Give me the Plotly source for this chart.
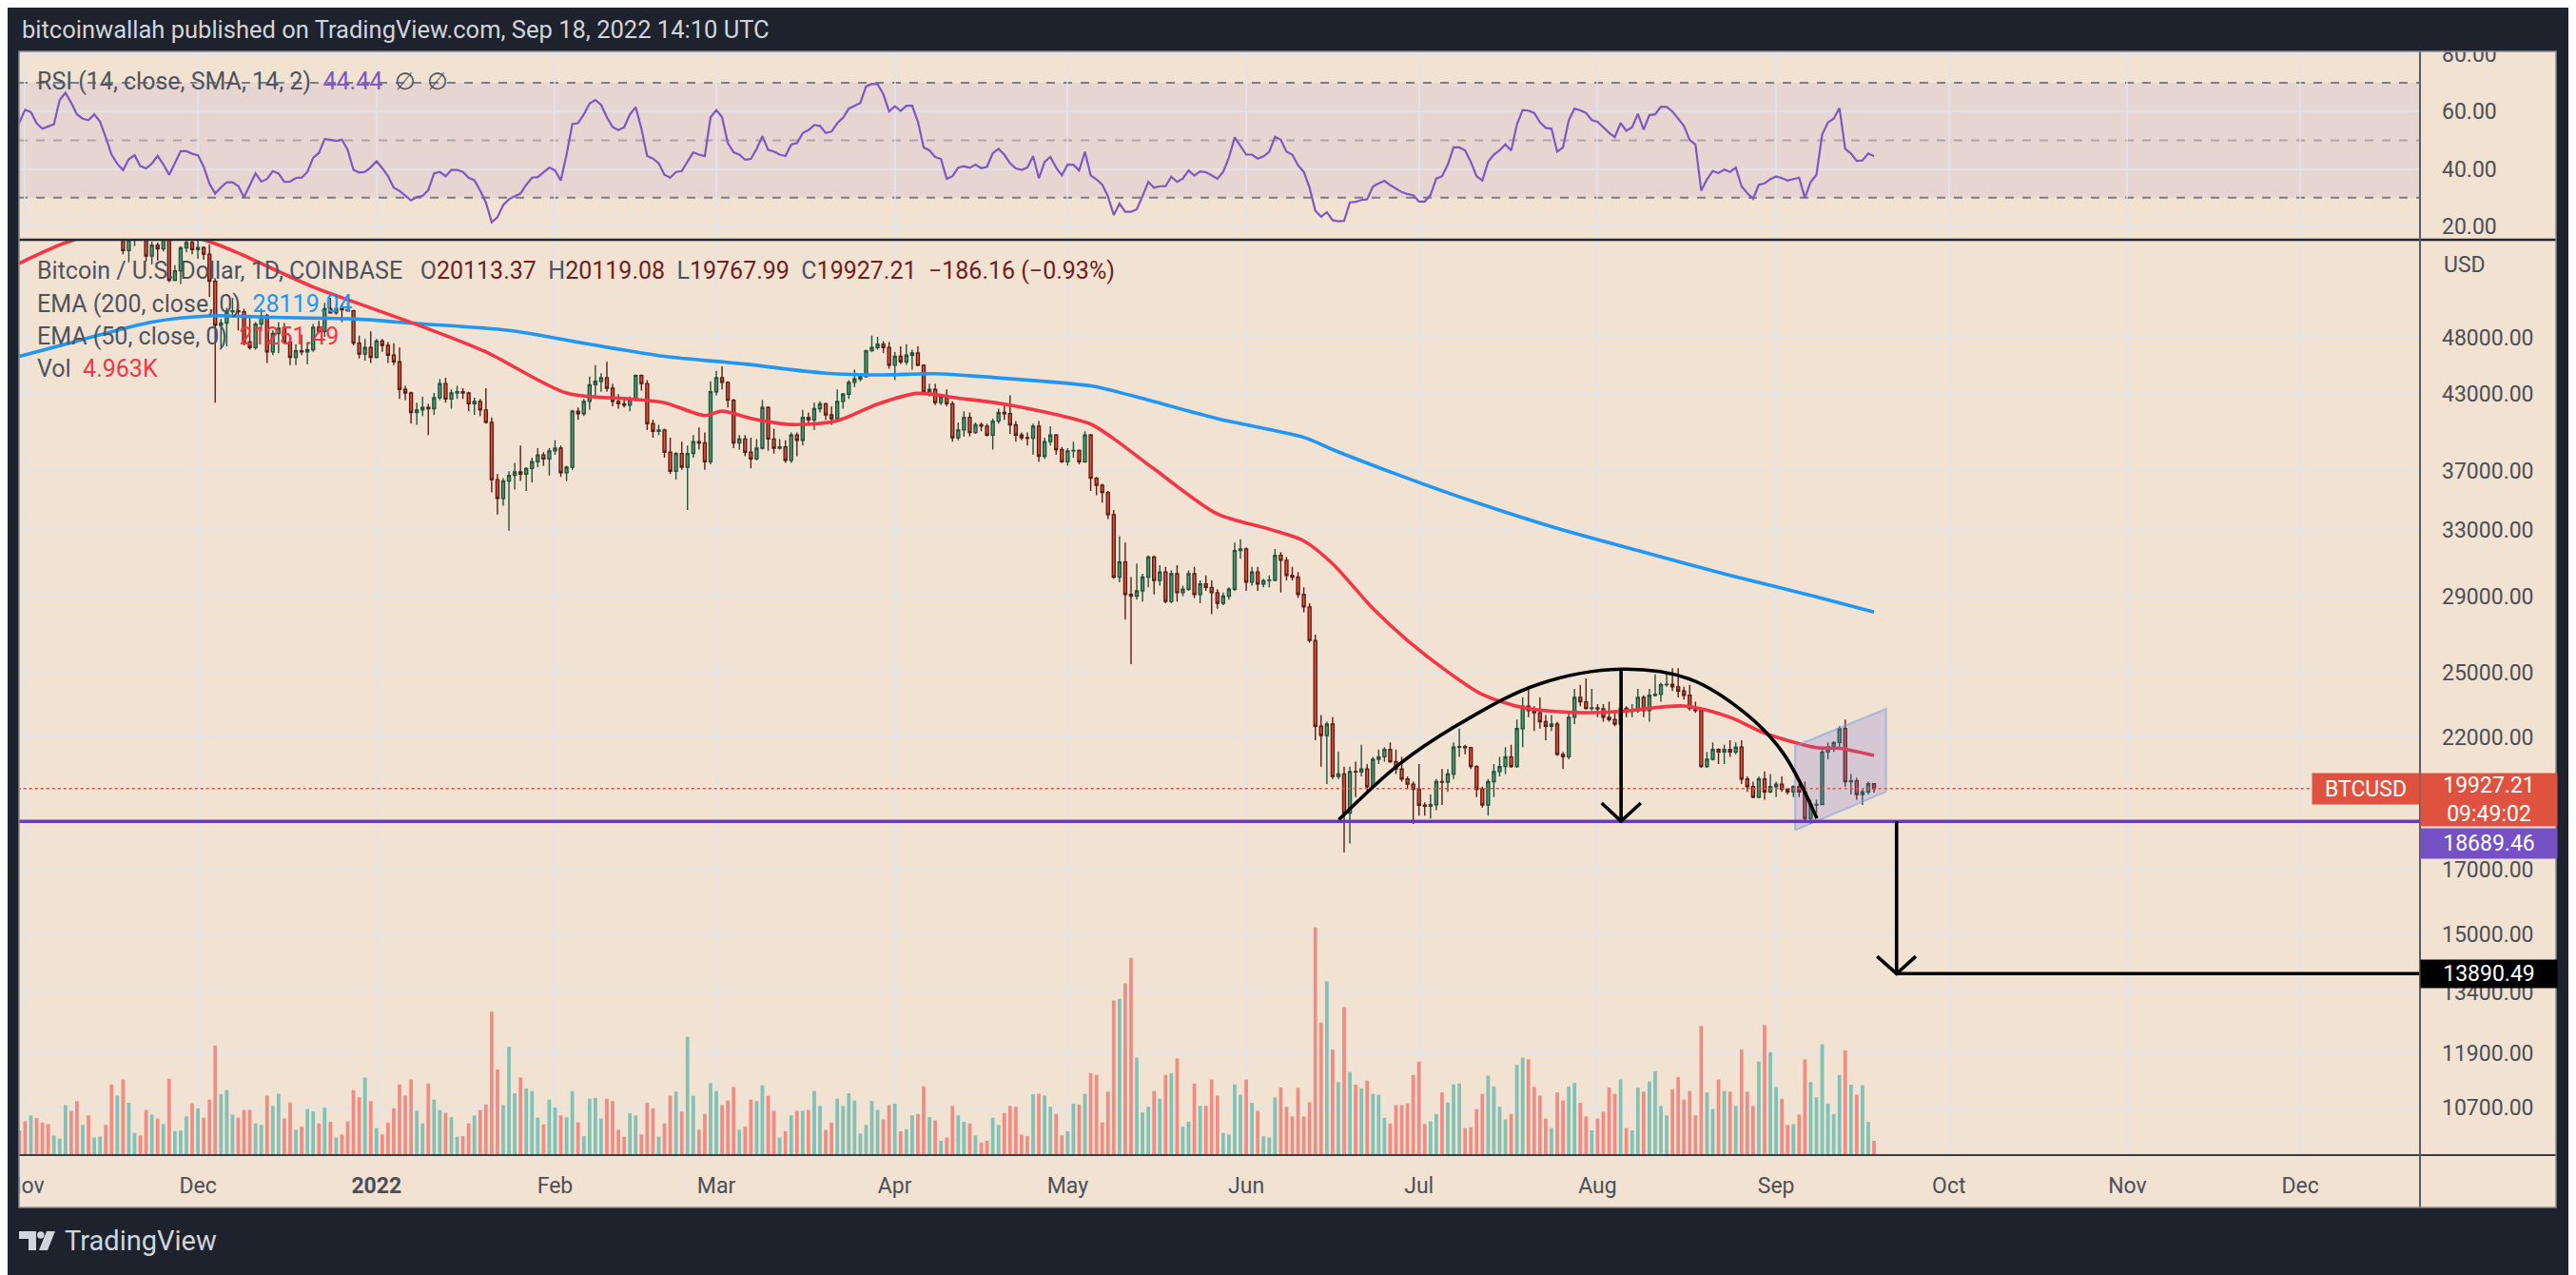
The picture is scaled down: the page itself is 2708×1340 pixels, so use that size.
import numpy as np
import pandas as pd
import plotly.graph_objects as go

W, H = 2708, 1340
# the page puts the figure 8 px in from the window corner; layout positions
# below are window pixels of the reference and are shifted back by this
OX, OY = 8, 8

NAVY = "#1e222d"
PEACH = "#f1e2d2"
GRID = "rgba(222,228,242,0.75)"
AXIS_TXT = "#4c4f58"

# BTC/USD daily candles (Coinbase), 30 Oct 2021 .. 18 Sep 2022
dates = pd.date_range("2021-10-30", "2022-09-18", freq="D")
first_open = 62250

closes = [
    61850, 61320,
    61000, 63230, 62940, 61400, 61000, 61500, 63300, 67550, 66950, 64900,
    64950, 64150, 64400, 65500, 63600, 60100, 60400, 56900, 58100, 59700,
    58700, 56300, 57500, 57100, 58900, 53700, 54700, 57200, 57800, 57000,
    57230, 56500, 53600, 49200, 49400, 50500, 50600, 50500, 47600, 47100,
    49300, 50100, 46700, 48400, 48900, 47600, 46200, 46800, 46700, 46900,
    49000, 48600, 50800, 50400, 50800, 50700, 50600, 47500, 46500, 47100, 46200,
    47700, 47300, 46400, 45800, 43400, 43100, 41500, 41700, 41900, 41800,
    42700, 43900, 42600, 43100, 43200, 43100, 42200, 42400, 41700, 40700,
    36400, 35100, 36300, 36700, 36950, 36800, 37200, 37700, 38200, 37900, 38500,
    38700, 36900, 37300, 41600, 41400, 42400, 43800, 44100, 44400, 43500,
    42400, 42200, 42100, 42600, 44600, 43900, 40600, 40000, 40100, 38400,
    37000, 38300, 37300, 38300, 39200, 39100, 37700, 43200,
    44400, 44000, 42500, 39100, 39400, 38400, 37900, 38700, 41900, 39400,
    38700, 38800, 37800, 39700, 39300, 41100, 40900, 41800, 42200, 41300,
    41000, 42400, 43000, 44000, 44300, 44500, 46800, 47100, 47400, 47100, 45500,
    46300, 45800, 46400, 46600, 45500, 43200, 43400, 42300, 42800, 42200,
    39500, 40100, 41100, 39900, 40500, 40400, 39700, 40800, 41500, 41400,
    40500, 39700, 39500, 39460, 40400, 38100, 39200, 39700, 38600, 37700,
    38500, 38530, 37700, 39700, 36500, 36000, 35500, 34000, 30100, 31000,
    29100, 29000, 29300, 30100, 31300, 29900, 30400, 28700, 30300, 29200,
    29400, 30300, 29100, 29700, 29500, 29200, 28600, 29000, 29400, 31700, 31800,
    29800, 30400, 29700, 29900, 29920, 31400, 31100, 30200, 30100, 29100,
    28400, 26600, 22500, 22100, 22600, 20400, 20500, 19000, 20600, 20580,
    20700, 20000, 21100, 21200, 21500, 21000, 20700, 20300, 20100, 19900,
    19290, 19250, 19310, 20200, 20180, 20500, 21600, 21620, 21580, 20800,
    19900, 19300, 20200, 20600, 20800, 21200, 20800, 22400, 23400, 23200,
    23100, 22700, 22500, 22600, 21300, 21200, 22900, 23800, 23600, 23300, 23320,
    23280, 22900, 22800, 22600, 23300, 23170, 23190, 23800, 23200, 23900,
    23950, 24400, 24420, 24300, 24100, 23900, 23300, 23200, 20800, 21100,
    21500, 21400, 21500, 21400, 21600, 20300, 20000, 19600, 20300, 19800, 20000,
    20100, 19900, 19800, 20000, 19800, 18800, 19300, 19320, 21400, 21600,
    21800, 22400, 20200, 20230, 19700, 19800, 20113.37, 19927.21,
]

highs = [
    62350, 62400,
    62400, 64300, 63500, 63100, 62600, 61600, 63400, 67800, 68530, 69000,
    65600, 65400, 65000, 65550, 66300, 63700, 60800, 60900, 58400, 59800,
    60000, 59200, 57900, 57800, 59400, 59200, 55300, 57400, 58900, 59200,
    59100, 57400, 57600, 53900, 49800, 50900, 51900, 51200, 50800, 50100,
    49500, 50800, 50300, 48700, 49500, 49400, 48000, 47400, 48300, 47600,
    49300, 49600, 51400, 51900, 51200, 51300, 52100, 50700, 48200, 47900, 48600,
    47900, 47900, 47600, 47500, 47100, 43700, 43200, 42300, 42800, 42200,
    43100, 44300, 44400, 43400, 43700, 43500, 43200, 42700, 42600, 43500,
    41100, 36800, 36500, 37000, 37600, 38900, 37300, 38000, 38700, 38400, 38700,
    39300, 38900, 37400, 41700, 41900, 42600, 44500, 45500, 44800, 45800,
    43900, 43000, 42700, 42800, 44700, 44700, 44200, 40900, 40500, 40200,
    39500, 38400, 39200, 38900, 39700, 40300, 39900, 44100,
    45000, 45400, 44100, 42600, 39700, 39700, 39500, 39400, 42500, 42000,
    40200, 39400, 39300, 39900, 39900, 41700, 41500, 42300, 42400, 42300,
    42000, 43400, 43100, 44200, 45100, 44800, 46900, 48200, 48100, 47700, 47600,
    46700, 47200, 47400, 46900, 47200, 45600, 43900, 43900, 42900, 43400,
    42400, 40700, 41600, 41500, 40700, 40700, 40600, 41000, 41800, 42200,
    42900, 40800, 39900, 39900, 40600, 40800, 39500, 40400, 39800, 38800,
    38700, 39200, 38600, 40000, 39800, 36600, 36100, 35600, 34300, 32600,
    32200, 30100, 30900, 30300, 31400, 31400, 30800, 30700, 30500, 30800,
    29600, 30500, 30700, 29900, 30200, 29900, 29400, 29200, 29500, 32200, 32400,
    31900, 30700, 30700, 30000, 30200, 31800, 31600, 31300, 30700, 30400,
    29500, 28600, 26900, 23000, 22700, 22900, 21400, 20800, 20800, 21000,
    21700, 20900, 21200, 21500, 21600, 21800, 21500, 21200, 20400, 20200,
    20900, 19400, 19700, 20300, 20700, 20700, 21800, 22400, 21700, 21600,
    20850, 20000, 20300, 20900, 21200, 21600, 21700, 22800, 23800, 24300,
    23400, 23800, 23000, 23000, 22700, 21400, 23100, 24200, 24400, 24700, 24200,
    23500, 23500, 23600, 23200, 23500, 23400, 23500, 24200, 23900, 24200,
    24900, 24500, 24900, 25200, 25200, 24300, 24400, 23600, 23250, 21400,
    21800, 21550, 21700, 21900, 21800, 21900, 20400, 20200, 20400, 20600, 20500,
    20200, 20400, 19950, 20050, 20100, 20200, 19500, 19500, 21500, 21800,
    21850, 22500, 22800, 20500, 20350, 19900, 20200, 20119.08,
]

lows = [
    60700, 60000,
    59500, 60700, 60400, 60700, 60700, 60100, 61300, 63100, 66300, 62800,
    64100, 62300, 63400, 63600, 63400, 58600, 58400, 56500, 55600, 57400,
    58500, 55700, 55400, 55800, 56800, 53500, 53600, 53300, 56700, 56500,
    56000, 55900, 52000, 42300, 47100, 47200, 50100, 48700, 47300, 46900,
    46900, 48600, 45700, 46400, 46600, 47500, 45500, 45500, 46400, 45600,
    46700, 48400, 48100, 50300, 50200, 49500, 50500, 47300, 46100, 45900, 45700,
    46100, 46700, 45700, 45500, 42600, 42500, 40600, 40500, 41200, 39700,
    41300, 42500, 42300, 41800, 42600, 42600, 41600, 41300, 41200, 40600,
    35500, 34000, 34600, 32950, 35700, 36300, 35600, 36200, 37300, 37400, 36700,
    38200, 36600, 36300, 37100, 40900, 41200, 41700, 42700, 43200, 43200,
    42000, 41800, 41900, 41600, 42400, 43300, 40100, 39500, 39700, 38000,
    36800, 36400, 37100, 34300, 38000, 38600, 37100, 37500,
    42900, 43400, 41900, 38700, 38600, 38100, 37200, 37800, 38600, 38500,
    38300, 38600, 37600, 37600, 38100, 38900, 40500, 40100, 41500, 40900,
    40500, 40900, 41800, 42600, 43600, 44100, 44400, 46700, 46900, 46600, 45200,
    44200, 45600, 45500, 45100, 45400, 43100, 42800, 42100, 42100, 42000,
    39200, 39300, 39600, 39600, 39800, 40000, 39600, 38600, 40600, 40900,
    39800, 39200, 39300, 38900, 38200, 37700, 37900, 38900, 38200, 37600,
    37400, 38000, 37500, 37600, 35600, 35300, 34800, 33700, 30000, 29800,
    27700, 25400, 28800, 28700, 29500, 29100, 29600, 28600, 28600, 28700,
    29000, 29300, 28900, 28600, 29300, 28000, 28300, 28500, 28800, 29300, 31200,
    29300, 29600, 29300, 29500, 29500, 29850, 29200, 29900, 29900, 28900,
    28100, 26500, 21900, 20800, 20100, 20300, 20300, 17600, 17900, 19600,
    20400, 19800, 19900, 20900, 21000, 20950, 20500, 20200, 19900, 18600,
    18900, 18900, 18800, 19100, 19300, 19800, 20300, 21200, 21300, 20700,
    19600, 19200, 18900, 19600, 20400, 20500, 20750, 20750, 21600, 22900,
    22300, 22400, 21900, 22300, 21250, 20700, 21100, 22600, 23400, 23250, 23200,
    22900, 22700, 22700, 22500, 22550, 22900, 22900, 23100, 22900, 22700,
    23850, 23600, 24300, 24100, 23800, 23700, 23200, 23100, 20750, 20750,
    21050, 20900, 20900, 21200, 21300, 20100, 19800, 19550, 19550, 19500, 19750,
    19600, 19800, 19700, 19600, 19600, 18700, 18600, 19000, 19300, 21100,
    21400, 21600, 20000, 19700, 19500, 19300, 19700, 19767.99,
]

# volume, thousands of BTC
volumes = [
    9.0,
    8.6, 11.8, 13.8, 12.9, 11.3, 10.8, 6.8, 5.7, 17.4, 15.4,
    18.8, 10.5, 13.8, 6.1, 6.4, 10.5, 24.6, 20.7, 26.3, 18.2,
    7.7, 6.8, 15.7, 14.1, 12.7, 10.8, 26.5, 8.3, 8.5, 13.5,
    18.0, 16.3, 13.0, 19.3, 38.1, 21.2, 22.6, 14.1, 13.0, 15.7,
    15.7, 11.0, 10.5, 20.7, 17.1, 21.3, 12.7, 18.3, 8.8, 9.9,
    16.0, 15.2, 11.0, 16.5, 11.6, 6.1, 7.2, 11.7, 22.6, 20.1,
    27.0, 18.8, 9.4, 7.2, 11.3, 16.3, 24.6, 20.7, 26.3, 15.4,
    11.0, 24.9, 19.3, 15.7, 14.7, 13.2, 6.4, 6.6, 11.0, 13.8,
    15.7, 17.6, 49.9, 29.8, 17.4, 37.7, 21.5, 27.0, 23.2, 22.3,
    13.0, 10.7, 19.3, 16.5, 13.8, 13.2, 22.3, 11.4, 6.6, 19.6,
    19.9, 12.7, 19.6, 18.8, 8.8, 6.4, 14.6, 13.8, 7.2, 18.2,
    16.3, 6.4, 11.0, 20.7, 22.1, 15.2, 41.1, 20.6, 8.8, 14.3,
    25.1, 22.3, 17.4, 19.0, 23.7, 8.8, 9.9, 19.3, 18.8, 24.3,
    20.6, 15.4, 6.1, 8.3, 13.8, 15.4, 15.4, 15.7, 22.3, 17.1,
    8.8, 11.3, 19.6, 17.1, 21.5, 19.0, 7.5, 10.5, 18.8, 15.7,
    12.4, 17.4, 17.9, 8.3, 9.0, 13.8, 14.3, 23.9, 13.2, 12.1,
    5.0, 6.1, 17.1, 13.8, 11.6,
    11.0, 6.8, 4.4, 5.0, 13.0, 10.5, 14.6, 17.1, 16.8, 7.1,
    6.6, 21.2, 21.3, 20.7, 16.8, 14.3, 6.9, 8.3, 17.9, 17.6,
    21.3, 28.5, 27.9, 11.4, 22.1, 53.8, 54.4, 59.8, 68.6, 33.9,
    14.9, 16.8, 22.3, 19.6, 27.9, 28.5, 33.6, 9.9, 11.6, 24.9,
    17.1, 17.1, 26.3, 20.7, 7.7, 7.2, 24.6, 21.0, 26.3, 18.2,
    15.4, 6.6, 6.1, 20.1, 23.5, 16.8, 13.5, 23.4, 13.5, 18.4,
    79.2, 46.1, 60.4, 36.7, 25.4, 51.5, 28.9, 24.5, 23.2, 25.9,
    21.3, 21.0, 13.0, 11.0, 17.4, 17.4, 18.0, 27.9, 32.5, 10.8,
    11.7, 14.3, 21.8, 18.3, 24.6, 24.9, 9.4, 9.7, 16.0, 21.3,
    27.6, 23.9, 16.8, 12.4, 14.3, 31.4, 33.9, 33.3, 23.7, 20.7,
    12.7, 9.4, 21.8, 19.0, 23.9, 25.1, 18.2, 13.5, 8.6, 12.7,
    15.1, 23.5, 21.3, 26.3, 9.4, 8.6, 23.5, 22.1, 25.6, 29.2,
    17.1, 13.8, 22.9, 27.2, 19.3, 22.3, 13.8, 44.9, 21.8, 16.0,
    26.3, 22.3, 22.1, 17.1, 36.7, 22.1, 17.1, 32.5, 45.2, 35.8,
    23.7, 19.6, 10.5, 10.8, 14.1, 33.3, 25.4, 20.1, 38.6, 17.9,
    14.3, 27.9, 36.4, 24.5, 21.0, 24.3, 11.6, 4.963,
]

# RSI(14)
rsi = [
    57.5, 56.2, 60.6, 59.8, 55.9, 54.0, 54.8, 55.5, 64.0, 66.5, 63.0, 59.0,
    57.5, 57.0, 59.0, 56.5, 51.0, 45.0, 41.8, 39.6, 43.4, 44.8,
    41.0, 40.2, 41.9, 44.6, 41.6, 38.0, 42.0, 46.2, 46.2, 45.3,
    44.8, 40.8, 34.9, 31.5, 33.6, 35.4, 35.4, 34.1, 30.2, 34.2,
    38.5, 35.6, 36.5, 39.3, 38.4, 35.5, 35.6, 36.9, 37.0, 39.0,
    43.9, 45.6, 50.4, 50.2, 49.8, 50.2, 46.7, 39.7, 38.8, 39.0,
    40.6, 42.7, 40.3, 37.5, 33.5, 32.4, 30.8, 29.1, 30.3, 30.6,
    32.7, 38.5, 39.0, 37.5, 39.7, 39.7, 39.0, 37.0, 36.1, 32.5,
    28.3, 21.5, 23.2, 27.5, 29.5, 30.5, 31.5, 34.5, 37.0, 37.2,
    39.0, 40.5, 39.5, 36.0, 45.0, 55.6, 56.0, 59.0, 62.8, 64.0,
    62.3, 58.0, 54.6, 53.5, 54.5, 59.0, 61.5, 54.0, 44.5, 43.6,
    42.0, 38.0, 37.0, 39.0, 39.3, 42.6, 45.8, 45.0, 44.5, 58.0,
    60.5, 58.0, 49.0, 45.8, 45.0, 43.2, 43.5, 47.0, 51.4, 46.6,
    46.1, 45.0, 44.5, 48.5, 49.0, 52.5, 53.5, 55.3, 55.0, 52.5,
    53.0, 55.9, 57.8, 61.0, 62.0, 63.0, 68.7, 69.6, 69.5, 66.0,
    60.0, 61.8, 60.2, 62.0, 62.0, 56.5, 47.5, 46.5, 44.2, 43.5,
    36.6, 37.5, 40.5, 41.0, 40.4, 41.5, 40.3, 40.8, 45.5, 47.0,
    45.0, 42.0, 40.2, 39.7, 40.5, 44.5, 36.8, 42.5, 44.2, 40.5,
    37.8, 41.6, 41.5, 39.5, 46.0, 37.8, 36.4, 34.6, 30.5, 24.0,
    28.0, 25.1, 25.1, 26.0, 30.6, 35.5, 33.5, 34.0, 34.0, 37.3,
    35.5, 36.7, 39.5, 37.7, 39.2, 38.9, 37.8, 36.6, 39.0, 44.0,
    51.0, 48.0, 45.0, 45.0, 43.6, 44.4, 46.0, 51.2, 50.2, 46.0,
    45.0, 41.3, 39.0, 33.5, 25.5, 23.4, 25.0, 22.2, 21.8, 22.0,
    28.4, 28.6, 29.2, 29.5, 33.9, 35.0, 35.9, 34.4, 33.2, 32.0,
    31.3, 30.9, 28.7, 28.7, 31.0, 36.7, 37.5, 41.5, 47.5, 47.5,
    46.5, 42.5, 37.5, 36.0, 42.5, 45.0, 46.5, 48.6, 46.4, 55.5,
    60.5, 60.3, 59.5, 56.2, 54.3, 54.0, 46.0, 47.5, 57.0, 61.0,
    60.4, 59.5, 57.0, 56.4, 54.5, 52.6, 51.1, 56.0, 53.3, 54.5,
    59.2, 53.7, 58.7, 59.0, 61.7, 61.6, 60.0, 57.5, 55.0, 50.1,
    48.5, 32.5, 36.4, 39.3, 38.6, 39.8, 39.0, 40.5, 34.0, 31.6,
    29.7, 34.5, 35.0, 36.5, 37.4, 36.8, 36.0, 36.5, 37.0, 30.0,
    35.5, 38.0, 52.0, 56.2, 57.5, 61.2, 47.0, 45.4, 42.8, 43.0,
    45.4, 44.44,
]

ema200_dates = ["2021-10-30", "2021-11-10", "2021-11-23", "2021-12-03", "2021-12-14",
                "2021-12-28", "2022-01-08", "2022-01-24", "2022-02-07", "2022-02-20",
                "2022-03-06", "2022-03-20", "2022-03-30", "2022-04-08", "2022-04-20",
                "2022-05-05", "2022-05-12", "2022-05-27", "2022-06-11", "2022-06-16",
                "2022-06-28", "2022-07-11", "2022-07-25", "2022-08-09", "2022-08-24",
                "2022-09-07", "2022-09-18"]
ema200 = [46150, 47700, 49500, 50100, 49950, 49800, 49350, 48700, 47400, 46300,
          45600, 44800, 44650, 44750, 44350, 43700, 42900, 41000, 39530, 38600,
          36650, 34800, 33100, 31600, 30200, 29050, 28119.04]

ema50_dates = ["2021-10-30", "2021-11-09", "2021-11-20", "2021-12-02", "2021-12-07",
               "2021-12-21", "2021-12-28", "2022-01-09", "2022-01-20", "2022-02-03",
               "2022-02-14", "2022-02-20", "2022-02-27", "2022-03-02", "2022-03-07",
               "2022-03-14", "2022-03-22", "2022-03-29", "2022-04-05", "2022-04-12",
               "2022-04-20", "2022-04-27", "2022-05-05", "2022-05-09", "2022-05-16",
               "2022-05-27", "2022-06-05", "2022-06-11", "2022-06-16", "2022-06-23",
               "2022-06-29", "2022-07-06", "2022-07-12", "2022-07-19", "2022-07-27",
               "2022-08-05", "2022-08-16", "2022-08-24", "2022-08-30", "2022-09-08",
               "2022-09-12", "2022-09-18"]
ema50 = [55200, 58000, 59300, 58100, 56900, 53000, 51500, 49050, 46700, 43100,
         42600, 42300, 41250, 41600, 41020, 40530, 40830, 42180, 43070, 42670,
         42180, 41530, 40560, 39420, 37170, 34040, 33050, 32300, 30890, 28310,
         26600, 25020, 23940, 23340, 23120, 23160, 23410, 22900, 22200, 21580,
         21550, 21251.49]

# drawings on the chart
support_level = 18689.46
target_level = 13890.49
arc_dates = ["2022-06-17 02:00", "2022-06-27 14:00", "2022-07-08 17:00", "2022-07-21 17:00",
             "2022-08-05 02:00", "2022-08-16 22:00", "2022-08-26 17:00", "2022-09-02 05:00",
             "2022-09-08 02:00"]
arc_prices = [18750, 20900, 22710, 24420, 25150, 24680, 23070, 21360, 18800]
channel_dates = ["2022-09-04 07:00", "2022-09-04 07:00", "2022-09-20 02:00", "2022-09-20 02:00", "2022-09-04 07:00"]
channel_prices = [18370, 21650, 23280, 19800, 18370]

month_ticks = pd.date_range("2021-11-01", "2022-12-01", freq="MS")
month_text = ["Nov", "Dec", "<b>2022</b>", "Feb", "Mar", "Apr", "May", "Jun",
              "Jul", "Aug", "Sep", "Oct", "Nov", "Dec"]
price_ticks = [10700, 11900, 13400, 15000, 17000, 22000, 25000, 29000, 33000, 37000, 43000, 48000]
rsi_ticks = [20, 40, 60, 80]

x_range = ["2021-10-30 22:30", "2022-12-21 19:00"]
far_left, far_right = "2021-10-01", "2023-02-01"

opens = [first_open] + closes[:-1]


def px(x):
    return (x - OX) / W


def py(y):
    return 1 - (y - OY) / H


fig = go.Figure()

# RSI pane
fig.add_trace(go.Scatter(x=dates, y=rsi, xaxis="x", yaxis="y", mode="lines",
                         line=dict(color="#7e57c2", width=2.2)))

# volume
vol_colors = ["rgba(38,166,154,0.55)" if c >= o else "rgba(239,83,80,0.6)"
              for o, c in zip(opens, closes)]
fig.add_trace(go.Bar(x=dates, y=volumes, xaxis="x2", yaxis="y3",
                     marker=dict(color=vol_colors, line=dict(width=0)),
                     width=0.62 * 86400000))

# candles
fig.add_trace(go.Candlestick(
    x=dates, open=opens, high=highs, low=lows, close=closes,
    xaxis="x2", yaxis="y2",
    increasing=dict(line=dict(color="#24513a", width=1.4), fillcolor="#4f9d72"),
    decreasing=dict(line=dict(color="#5b1e16", width=1.4), fillcolor="#e0533f"),
))

# moving averages
fig.add_trace(go.Scatter(x=ema200_dates, y=ema200, xaxis="x2", yaxis="y2", mode="lines",
                         line=dict(color="#2196f3", width=3.6, shape="spline", smoothing=0.8)))
fig.add_trace(go.Scatter(x=ema50_dates, y=ema50, xaxis="x2", yaxis="y2", mode="lines",
                         line=dict(color="#f23645", width=3.6, shape="spline", smoothing=0.8)))

# rising channel
fig.add_trace(go.Scatter(x=channel_dates, y=channel_prices, xaxis="x2", yaxis="y2",
                         mode="lines", fill="toself", fillcolor="rgba(120,110,210,0.22)",
                         line=dict(color="rgba(120,160,225,0.55)", width=2)))

# horizontal levels
fig.add_trace(go.Scatter(x=[far_left, far_right], y=[support_level] * 2, xaxis="x2", yaxis="y2",
                         mode="lines", line=dict(color="#673ab7", width=3.4)))
fig.add_trace(go.Scatter(x=[far_left, "2022-12-03"], y=[closes[-1]] * 2, xaxis="x2", yaxis="y2",
                         mode="lines", line=dict(color="#e0533f", width=1.6, dash="dot")))

# arc and arrows
black = dict(color="#000000", width=3.6)
fig.add_trace(go.Scatter(x=arc_dates, y=arc_prices, xaxis="x2", yaxis="y2", mode="lines",
                         line=dict(black, shape="spline", smoothing=1.0)))
fig.add_trace(go.Scatter(x=["2022-08-05 02:00", "2022-08-05 02:00"], y=[max(arc_prices), 18700],
                         xaxis="x2", yaxis="y2", mode="lines", line=black))
fig.add_trace(go.Scatter(x=["2022-08-01 17:00", "2022-08-05 02:00", "2022-08-08 12:00"],
                         y=[19370, 18700, 19370], xaxis="x2", yaxis="y2", mode="lines", line=black))
fig.add_trace(go.Scatter(x=["2022-09-21 22:00", "2022-09-21 22:00", far_right],
                         y=[support_level, target_level, target_level],
                         xaxis="x2", yaxis="y2", mode="lines", line=black))
fig.add_trace(go.Scatter(x=["2022-09-18 13:00", "2022-09-21 22:00", "2022-09-25 06:00"],
                         y=[14363, target_level, 14363], xaxis="x2", yaxis="y2", mode="lines",
                         line=black))

xdom = [px(20), px(2544)]
rsi_dom = [py(252), py(54)]
main_dom = [py(1214), py(252)]
log_bottom, log_top = 3.98898, 4.76426

axis_common = dict(showgrid=True, gridcolor=GRID, gridwidth=1.5, zeroline=False,
                   showline=False, ticks="", automargin=False)

fig.update_layout(
    width=W, height=H, margin=dict(l=0, r=0, t=0, b=0, pad=0, autoexpand=False),
    paper_bgcolor=NAVY, plot_bgcolor=PEACH, showlegend=False, hovermode=False,
    font=dict(family="Roboto, 'Noto Sans', sans-serif", color=AXIS_TXT),
    xaxis=dict(axis_common, type="date", domain=xdom, range=x_range, anchor="y",
               tickvals=month_ticks, showticklabels=False),
    xaxis2=dict(axis_common, type="date", domain=xdom, range=x_range, anchor="y2", matches="x",
                tickvals=month_ticks, ticktext=month_text, ticklabeloverflow="allow",
                tickfont=dict(size=23, color=AXIS_TXT), ticklabelstandoff=16,
                rangeslider=dict(visible=False)),
    yaxis=dict(axis_common, domain=rsi_dom, range=[15.4, 80.9], anchor="x", side="right",
               tickvals=rsi_ticks, ticktext=[f"{v:.2f}" for v in rsi_ticks],
               tickfont=dict(size=23, color=AXIS_TXT), ticklabelstandoff=22),
    yaxis2=dict(axis_common, type="log", domain=main_dom, range=[log_bottom, log_top],
                anchor="x2", side="right", tickvals=price_ticks,
                ticktext=[f"{v:.2f}" for v in price_ticks],
                tickfont=dict(size=23, color=AXIS_TXT), ticklabelstandoff=22),
    yaxis3=dict(overlaying="y2", anchor="x2", range=[0, 318.4], visible=False,
                automargin=False),
)

shapes = [
    dict(type="rect", xref="paper", yref="paper", x0=px(20), x1=px(2687), y0=py(1269), y1=py(54),
         fillcolor=PEACH, line=dict(width=0), layer="below"),
    dict(type="rect", xref="x domain", yref="y", x0=0, x1=1, y0=30, y1=70,
         fillcolor="rgba(126,87,194,0.09)", line=dict(width=0), layer="below"),
]
for lvl, col in [(70, "#7b7d86"), (50, "rgba(123,125,134,0.55)"), (30, "#7b7d86")]:
    shapes.append(dict(type="line", xref="x domain", yref="y", x0=0, x1=1, y0=lvl, y1=lvl,
                       line=dict(color=col, width=2, dash="dash"), layer="below"))
# frame of the chart window
shapes += [
    dict(type="rect", xref="paper", yref="paper", x0=0, x1=1, y0=py(54), y1=1,
         fillcolor=NAVY, line=dict(width=0), layer="above"),
    dict(type="rect", xref="paper", yref="paper", x0=0, x1=px(20), y0=0, y1=1,
         fillcolor=NAVY, line=dict(width=0), layer="above"),
    dict(type="rect", xref="paper", yref="paper", x0=px(2687), x1=1, y0=0, y1=1,
         fillcolor=NAVY, line=dict(width=0), layer="above"),
    dict(type="line", xref="paper", yref="paper", x0=px(20), x1=px(2687), y0=py(252), y1=py(252),
         line=dict(color="#25272e", width=2.5), layer="above"),
    dict(type="line", xref="paper", yref="paper", x0=px(20), x1=px(2687), y0=py(1214), y1=py(1214),
         line=dict(color="#3a3c44", width=2), layer="above"),
    dict(type="line", xref="paper", yref="paper", x0=px(2544), x1=px(2544), y0=py(1269), y1=py(54),
         line=dict(color="#5a5c64", width=2), layer="above"),
    dict(type="rect", xref="paper", yref="paper", x0=px(20), x1=px(2687), y0=py(1269), y1=py(54),
         line=dict(color="#8a8c92", width=1.5), layer="above"),
]


def path(points):
    return "M " + " L ".join(f"{px(x):.5f},{py(y):.5f}" for x, y in points) + " Z"


# TradingView logo
logo_fill = "#d1d4dc"
shapes += [
    dict(type="path", xref="paper", yref="paper", layer="above", line=dict(width=0),
         fillcolor=logo_fill,
         path=path([(20, 1294), (38, 1294), (38, 1314), (30, 1314), (30, 1302), (20, 1302)])),
    dict(type="circle", xref="paper", yref="paper", layer="above", line=dict(width=0),
         fillcolor=logo_fill, x0=px(39), x1=px(46.5), y0=py(1301.8), y1=py(1294.3)),
    dict(type="path", xref="paper", yref="paper", layer="above", line=dict(width=0),
         fillcolor=logo_fill,
         path=path([(49, 1294), (58, 1294), (50, 1314), (41, 1314)])),
]
fig.update_layout(shapes=shapes)

sp = "\u00a0"
val = "#6e1f1f"
o, h, l, c = opens[-1], highs[-1], lows[-1], closes[-1]
chg = c - closes[-2]
pct = chg / closes[-2] * 100


def fmt(v):
    return f"{v:.2f}".replace("-", "\u2212")


def span(text, color):
    return f"<span style='color:{color}'>{text}</span>"


def note(text, x, y, size=23, color="#50535e", xanchor="left", **kw):
    return dict(text=text, x=px(x), y=py(y), xref="paper", yref="paper", xanchor=xanchor,
                yanchor="middle", showarrow=False, font=dict(size=size, color=color), **kw)


ohlc_line = ("Bitcoin / U.S. Dollar, 1D, COINBASE" + sp * 3
             + "O" + span(fmt(o), val) + sp * 2 + "H" + span(fmt(h), val) + sp * 2
             + "L" + span(fmt(l), val) + sp * 2 + "C" + span(fmt(c), val) + sp * 2
             + span(f"{fmt(chg)} ({fmt(pct)}%)", val))

annotations = [
    note("bitcoinwallah published on TradingView.com, Sep 18, 2022 14:10 UTC", 21, 31,
         size=25.5, color="#d1d4dc"),
    note("RSI (14, close, SMA, 14, 2)" + sp * 2 + span(f"{rsi[-1]:.2f}", "#7e57c2")
         + sp * 2 + "\u2205" + sp * 2 + "\u2205", 37, 86, size=25),
    note(ohlc_line, 37, 285, size=25),
    note("EMA (200, close, 0)" + sp * 2 + span(fmt(ema200[-1]), "#2196f3"), 37, 319, size=25),
    note("EMA (50, close, 0)" + sp * 2 + span(fmt(ema50[-1]), "#f23645"), 37, 353, size=25),
    note("Vol" + sp * 2 + span(f"{volumes[-1]:.3f}K", "#f23645"), 37, 387, size=25),
    note("USD", 2567, 278, size=23, color=AXIS_TXT),
    note("TradingView", 66, 1304, size=29, color="#d1d4dc"),
    # price labels on the axis
    note("BTCUSD", 2430, 829, size=23, color="#ffffff", bgcolor="#df5240",
         width=112, height=32, borderpad=0, align="center"),
    note(fmt(c) + "<br>09:49:02", 2544, 840.5, size=23, color="#ffffff", bgcolor="#df5240",
         width=143, height=55, borderpad=0, align="center"),
    note(fmt(support_level), 2544, 886.5, size=23, color="#ffffff", bgcolor="#7452c6",
         width=143, height=31, borderpad=0, align="center"),
    note(fmt(target_level), 2544, 1023.5, size=23, color="#ffffff", bgcolor="#000000",
         width=143, height=29, borderpad=0, align="center"),
]
fig.update_layout(annotations=annotations)

fig.write_html("out.html")
